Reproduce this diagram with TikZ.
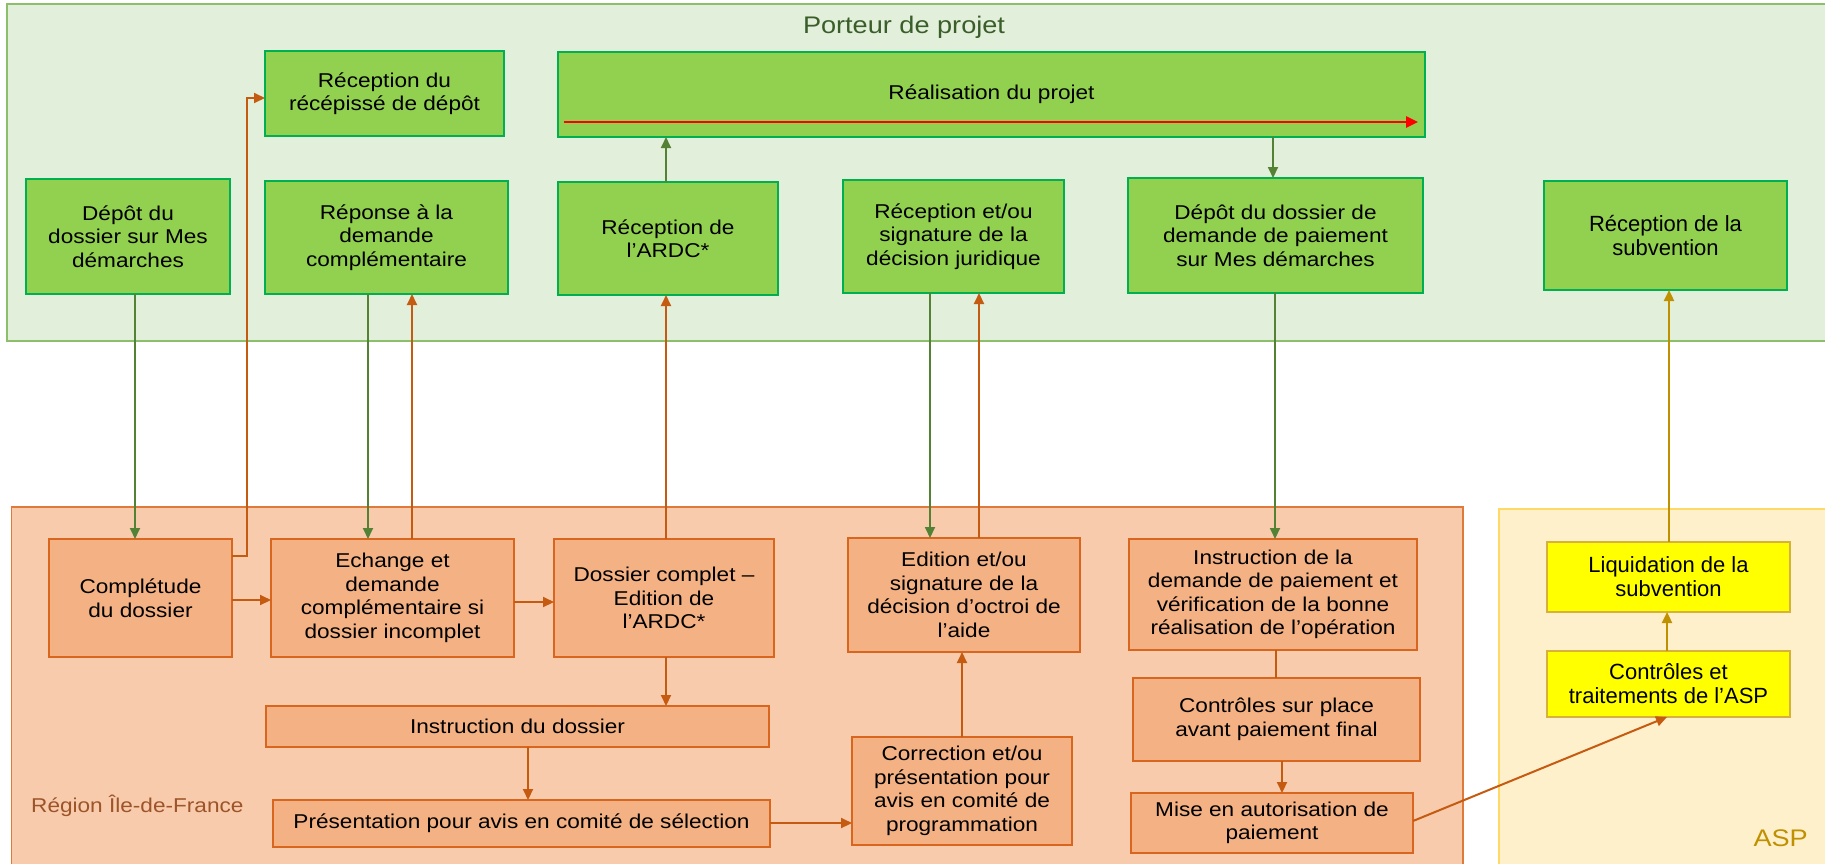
\documentclass[tikz,border=0pt]{standalone}
\usepackage{fontspec}
\setmainfont{Liberation Sans}[FakeStretch=1.13]
\newfontfamily\widefont{Liberation Sans}
\usetikzlibrary{arrows.meta}
\definecolor{gpanel}{HTML}{E2EFDA}
\definecolor{gpanelline}{HTML}{8DBF6A}
\definecolor{gboxfill}{HTML}{92D050}
\definecolor{gboxline}{HTML}{00B050}
\definecolor{opanel}{HTML}{F8CBAD}
\definecolor{opanelline}{HTML}{E07A3A}
\definecolor{oboxfill}{HTML}{F4B183}
\definecolor{oboxline}{HTML}{D9661F}
\definecolor{ypanel}{HTML}{FFF0CC}
\definecolor{ypanelline}{HTML}{FFD966}
\definecolor{yboxfill}{HTML}{FFFF00}
\definecolor{yboxline}{HTML}{D6B23A}
\definecolor{garrowc}{HTML}{548235}
\definecolor{oarrowc}{HTML}{C55A11}
\definecolor{yarrowc}{HTML}{BF9000}
\definecolor{titlegreen}{HTML}{3A5E2A}
\definecolor{regionbrown}{HTML}{9C5428}
\begin{document}
\begin{tikzpicture}[x=1pt,y=-1pt,
  box/.style={draw, line width=1.5pt, outer sep=0pt, inner sep=2pt, align=center,
    font=\fontsize{20pt}{23.5pt}\selectfont, text=black},
  gbox/.style={box, fill=gboxfill, draw=gboxline},
  obox/.style={box, fill=oboxfill, draw=oboxline},
  ybox/.style={box, fill=yboxfill, draw=yboxline},
  widetext/.style={font=\widefont\fontsize{22pt}{24pt}\selectfont},
  tip/.style={-{Triangle[length=11pt,width=10pt]}},
  garrow/.style={draw=garrowc, line width=1.8pt, tip},
  oarrow/.style={draw=oarrowc, line width=2pt, tip},
  oline/.style={draw=oarrowc, line width=2pt},
  yarrow/.style={draw=yarrowc, line width=2.2pt, tip},
  rarrow/.style={draw=red, line width=2.5pt, -{Triangle[length=12pt,width=11pt]}}
]
\useasboundingbox (0,0) rectangle (1825,863);
% panels
\fill[gpanel] (7,4) rectangle (1832,341);
\draw[gpanelline, line width=1.2pt] (1832,4) -- (7,4) -- (7,341) -- (1832,341);
\fill[opanel] (11.5,507) rectangle (1463,870);
\draw[opanelline, line width=1.2pt] (11.5,870) -- (11.5,507) -- (1463,507) -- (1463,870);
\fill[ypanel] (1499,509) rectangle (1832,870);
\draw[ypanelline, line width=1.2pt] (1499,870) -- (1499,509) -- (1832,509);

% labels
\node[text=titlegreen, font=\fontsize{24pt}{28pt}\selectfont] (title) at (904,27) {Porteur de projet};
\node[anchor=west, text=regionbrown, font=\fontsize{20pt}{24pt}\selectfont, inner sep=0pt] (region) at (31,806) {Région Île-de-France};
\node[anchor=east, text=yarrowc, font=\fontsize{24pt}{28pt}\selectfont, inner sep=0pt] (asp) at (1808,838) {ASP};

% green boxes
\node[gbox, minimum width=239pt, minimum height=85pt] (recep) at (384.5,93.5) {Réception du\\récépissé de dépôt};
\node[gbox, minimum width=867pt, minimum height=85pt] (real) at (991.5,94.5) {\raisebox{0pt}{Réalisation du projet}};
\node[gbox, minimum width=204pt, minimum height=115pt] (depot) at (128,236.5) {Dépôt du\\dossier sur Mes\\démarches};
\node[gbox, minimum width=243pt, minimum height=113pt] (reponse) at (386.5,237.5) {Réponse à la\\demande\\complémentaire};
\node[gbox, minimum width=220pt, minimum height=113pt] (ardc) at (668,238.5) {Réception de\\l’ARDC*};
\node[gbox, minimum width=221pt, minimum height=113pt] (recsig) at (953.5,236.5) {Réception et/ou\\signature de la\\décision juridique};
\node[gbox, minimum width=295pt, minimum height=115pt] (depotp) at (1275.5,235.5) {Dépôt du dossier de\\demande de paiement\\sur Mes démarches};
\node[gbox, widetext, minimum width=243pt, minimum height=109pt] (recsub) at (1665.5,235.5) {Réception de la\\subvention};

% orange boxes
\node[obox, minimum width=183pt, minimum height=118pt] (compl) at (140.5,598) {Complétude\\du dossier};
\node[obox, minimum width=243pt, minimum height=118pt] (echange) at (392.5,598) {Echange et\\demande\\complémentaire si\\dossier incomplet};
\node[obox, minimum width=220pt, minimum height=118pt] (dcomplet) at (664,598) {Dossier complet –\\Edition de\\l’ARDC*};
\node[obox, minimum width=503pt, minimum height=41pt] (instr) at (517.5,726.5) {Instruction du dossier};
\node[obox, minimum width=497pt, minimum height=47pt] (present) at (521.5,823.5) {Présentation pour avis en comité de sélection};
\node[obox, minimum width=232pt, minimum height=114pt] (edition) at (964,595) {Edition et/ou\\signature de la\\décision d’octroi de\\l’aide};
\node[obox, minimum width=220pt, minimum height=108pt] (correct) at (962,791) {Correction et/ou\\présentation pour\\avis en comité de\\programmation};
\node[obox, minimum width=288pt, minimum height=111pt] (instrp) at (1273,594.5) {Instruction de la\\demande de paiement et\\vérification de la bonne\\réalisation de l’opération};
\node[obox, minimum width=287pt, minimum height=83pt] (ctrl) at (1276.5,719.5) {Contrôles sur place\\avant paiement final};
\node[obox, minimum width=282pt, minimum height=60pt] (mise) at (1272,823) {Mise en autorisation de\\paiement};

% yellow boxes
\node[ybox, widetext, minimum width=243pt, minimum height=70pt] (liq) at (1668.5,577) {Liquidation de la\\subvention};
\node[ybox, widetext, minimum width=243pt, minimum height=66pt] (ctrlasp) at (1668.5,684) {Contrôles et\\traitements de l’ASP};

% helper coordinates
\coordinate (c135) at (135,0);
\coordinate (k1) at (247,556);
\coordinate (k2) at (247,98);
\coordinate (h600) at (0,600);
\coordinate (c368) at (368,0);
\coordinate (c412) at (412,0);
\coordinate (h602) at (0,602);
\coordinate (c666) at (666,0);
\coordinate (c528) at (528,0);
\coordinate (h823) at (0,823);
\coordinate (c962) at (962,0);
\coordinate (c930) at (930,0);
\coordinate (c979) at (979,0);
\coordinate (c1273) at (1273,0);
\coordinate (c1275) at (1275,0);
\coordinate (c1276) at (1276,0);
\coordinate (c1282) at (1282,0);
\coordinate (h821) at (0,821);
\coordinate (c1667) at (1667,0);
\coordinate (c1669) at (1669,0);
\coordinate (ra) at (564,122);
\coordinate (rb) at (1418,122);

% red arrow inside Réalisation
\draw[rarrow] (ra) -- (rb);

% connectors
\draw[garrow] (depot.south -| c135) -- (compl.north -| c135);
\draw[oarrow] (compl.east |- k1) -- (k1) -- (k2) -- (recep.west |- k2);
\draw[oarrow] (compl.east |- h600) -- (echange.west |- h600);
\draw[garrow] (reponse.south -| c368) -- (echange.north -| c368);
\draw[oarrow] (echange.north -| c412) -- (reponse.south -| c412);
\draw[oarrow] (echange.east |- h602) -- (dcomplet.west |- h602);
\draw[oarrow] (dcomplet.north -| c666) -- (ardc.south -| c666);
\draw[garrow] (ardc.north -| c666) -- (real.south -| c666);
\draw[oarrow] (dcomplet.south -| c666) -- (instr.north -| c666);
\draw[oarrow] (instr.south -| c528) -- (present.north -| c528);
\draw[oarrow] (present.east |- h823) -- (correct.west |- h823);
\draw[oarrow] (correct.north -| c962) -- (edition.south -| c962);
\draw[garrow] (recsig.south -| c930) -- (edition.north -| c930);
\draw[oarrow] (edition.north -| c979) -- (recsig.south -| c979);
\draw[garrow] (real.south -| c1273) -- (depotp.north -| c1273);
\draw[garrow] (depotp.south -| c1275) -- (instrp.north -| c1275);
\draw[oline] (instrp.south -| c1276) -- (ctrl.north -| c1276);
\draw[oarrow] (ctrl.south -| c1282) -- (mise.north -| c1282);
\draw[oarrow] (mise.east |- h821) -- (ctrlasp.south -| c1667);
\draw[yarrow] (ctrlasp.north -| c1667) -- (liq.south -| c1667);
\draw[yarrow] (liq.north -| c1669) -- (recsub.south -| c1669);
\end{tikzpicture}
\end{document}
